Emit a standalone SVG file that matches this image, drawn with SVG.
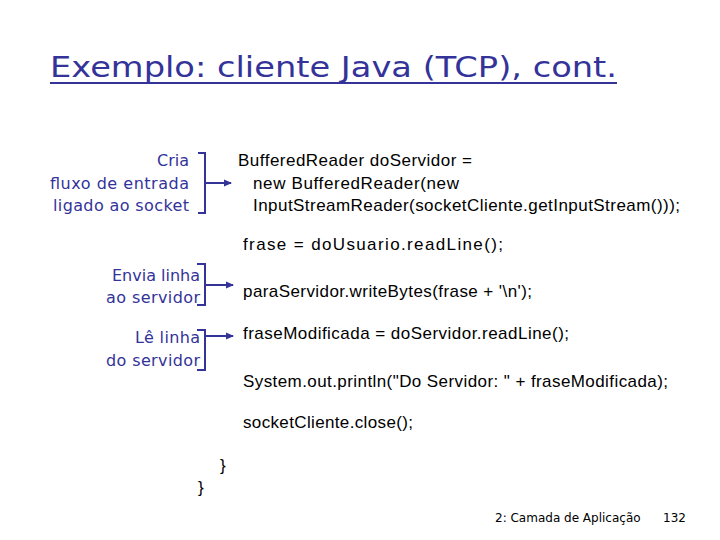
<svg xmlns="http://www.w3.org/2000/svg" width="720" height="540" viewBox="0 0 720 540">
<defs><marker id="ah" markerWidth="8" markerHeight="8" refX="7" refY="4" orient="auto" markerUnits="userSpaceOnUse"><path d="M0,0.5 L8,4 L0,7.5 Z" fill="#333399"/></marker></defs>
<style>
.t{font-family:"DejaVu Sans",sans-serif;fill:#333399}
.c{font-family:"Liberation Sans",Arial,sans-serif;font-size:17px;fill:#000}
.b{fill:none;stroke:#333399;stroke-width:2}
</style>
<rect width="720" height="540" fill="#fff"/>
<text class="t" x="50" y="77" font-size="29" textLength="567" lengthAdjust="spacingAndGlyphs">Exemplo: cliente Java (TCP), cont.</text>
<line x1="50" y1="83" x2="617" y2="83" stroke="#333399" stroke-width="2"/>
<g id="n1"><text class="t" font-size="16" text-anchor="end"><tspan x="189" y="166">Cria</tspan><tspan x="189" y="189" textLength="139">fluxo de entrada</tspan><tspan x="189" y="211" textLength="136">ligado ao socket</tspan></text>
<path class="b" d="M198,153 H205 V213 H198"/></g>
<g id="n2"><text class="t" font-size="16" text-anchor="end"><tspan x="200" y="281" textLength="88">Envia linha</tspan><tspan x="200" y="303" textLength="94">ao servidor</tspan></text>
<path class="b" d="M197,264 H205 V305 H197"/></g>
<g id="n3"><text class="t" font-size="16" text-anchor="end"><tspan x="200" y="343" textLength="65">Lê linha</tspan><tspan x="200" y="366" textLength="94">do servidor</tspan></text>
<path class="b" d="M197,330 H205 V370 H197"/></g>
<g id="code">
<text class="c" x="238" y="166" textLength="234">BufferedReader doServidor =</text>
<text class="c" x="253" y="189" textLength="206">new BufferedReader(new</text>
<text class="c" x="253" y="211" textLength="427">InputStreamReader(socketCliente.getInputStream()));</text>
<text class="c" x="243" y="250" textLength="260">frase = doUsuario.readLine();</text>
<text class="c" x="243" y="297" textLength="289">paraServidor.writeBytes(frase + '\n');</text>
<text class="c" x="243" y="339" textLength="326">fraseModificada = doServidor.readLine();</text>
<text class="c" x="243" y="387" textLength="425">System.out.println("Do Servidor: " + fraseModificada);</text>
<text class="c" x="243" y="428" textLength="170">socketCliente.close();</text>
<text class="c" x="220" y="471">}</text>
<text class="c" x="198" y="493">}</text>
</g>
<g id="connectors">
<line class="b" x1="205" y1="183" x2="231" y2="183" marker-end="url(#ah)"/>
<line class="b" x1="205" y1="285" x2="233" y2="285" marker-end="url(#ah)"/>
<line class="b" x1="205" y1="336" x2="233" y2="336" marker-end="url(#ah)"/>
</g>
<text x="495" y="522" font-family="DejaVu Sans,sans-serif" font-size="12">2: Camada de Aplicação</text>
<text x="663" y="522" font-family="DejaVu Sans,sans-serif" font-size="12">132</text>
</svg>
